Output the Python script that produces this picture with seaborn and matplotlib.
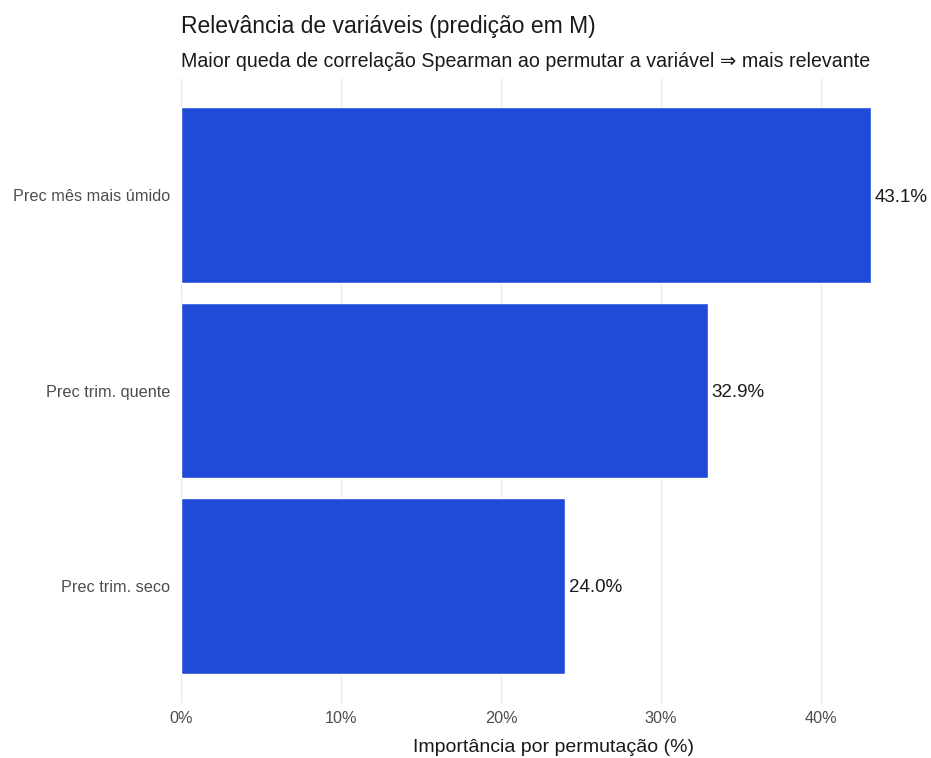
import matplotlib
matplotlib.use("Agg")
import matplotlib.pyplot as plt
import seaborn as sns
import pandas as pd

# Data
variaveis = ["Prec mês mais úmido", "Prec trim. quente", "Prec trim. seco"]
importancia = [43.1, 32.9, 24.0]
ticks = [0, 10, 20, 30, 40]
tick_labels = ["0%", "10%", "20%", "30%", "40%"]

df = pd.DataFrame({"variavel": variaveis, "importancia": importancia})

sns.set_theme(style="white")
plt.rcParams["font.family"] = ["Liberation Sans", "DejaVu Sans"]

W, H = 931, 758
fig = plt.figure(figsize=(W / 100, H / 100), dpi=100)
ax = fig.add_axes([181 / W, 1 - 703 / H, (926 - 181) / W, (703 - 78) / H])

sns.barplot(data=df, x="importancia", y="variavel", color="#1F4BD8",
            width=0.9, saturation=1, ax=ax, zorder=2)

for i, v in enumerate(importancia):
    ax.text(v + 0.25, i, f"{v:.1f}%", va="center_baseline", ha="left",
            fontsize=13.5, color="#1a1a1a")

ax.set_xlim(0, max(importancia) * 1.08)
ax.set_ylim(2.6, -0.6)
ax.set_xticks(ticks)
ax.set_xticklabels(tick_labels)
ax.grid(axis="x", color="#EBEBEB", linewidth=1, zorder=0)
ax.grid(axis="y", visible=False)
for s in ax.spines.values():
    s.set_visible(False)
ax.tick_params(axis="both", length=0, labelsize=11.7, colors="#4D4D4D")
ax.tick_params(axis="x", pad=6)
ax.tick_params(axis="y", pad=8)
ax.set_ylabel("")
ax.set_xlabel("Importância por permutação (%)", fontsize=14, color="#1a1a1a", labelpad=9)

fig.text(181 / W, 1 - 33 / H, "Relevância de variáveis (predição em M)",
         fontsize=16.5, color="#1a1a1a", ha="left", va="baseline")
fig.text(181 / W, 1 - 67 / H,
         "Maior queda de correlação Spearman ao permutar a variável ⇒ mais relevante",
         fontsize=14.1, color="#1a1a1a", ha="left", va="baseline")

fig.savefig("out.png", dpi=100, facecolor="white")
